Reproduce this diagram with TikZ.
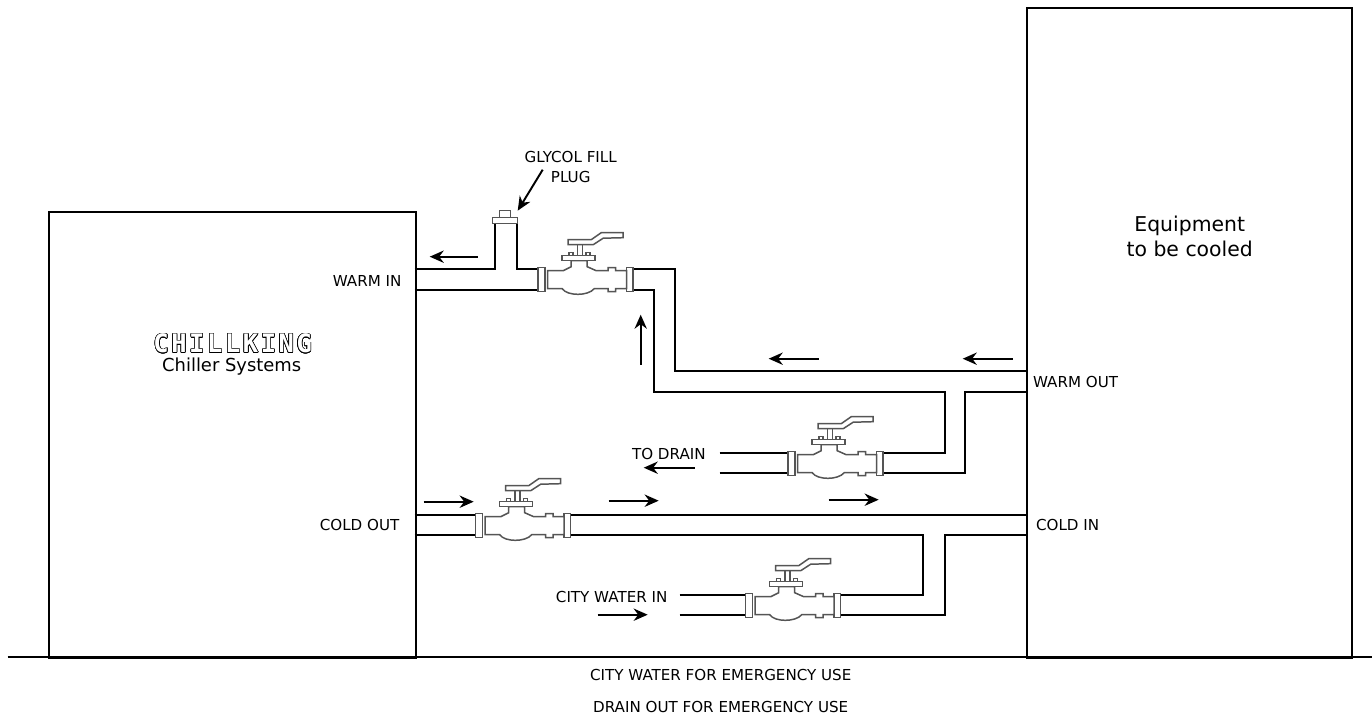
\documentclass[tikz,border=0pt]{standalone}
\usepackage{fontspec}
\usepackage{contour}
\setmainfont{DejaVu Sans}
\newfontfamily\logofont[LetterSpace=10]{DejaVu Sans Mono Bold}
\contourlength{0.35pt}
\usetikzlibrary{arrows.meta}
\definecolor{valveline}{RGB}{85,85,85}
\tikzset{
  pipeline/.style={black, line width=1.25pt, line join=miter},
  wall/.style={black, line width=1.2pt},
  valveedge/.style={valveline, line width=0.85pt, fill=white},
  flowarrow/.style={black, line width=1.1pt, -{Stealth[length=8pt,width=7pt]}},
  pipelabel/.style={font=\fontsize{8.6}{11.3}\selectfont, inner sep=0pt},
  ballvalve/.pic={
    % flanges
    \draw[valveedge] (-47,-12) rectangle (-40,12);
    \draw[valveedge] (41.5,-12) rectangle (48,12);
    % body
    \draw[valveedge] (-37.5,-9) -- (-22,-9) -- (-14,-13) -- (-14,-19) -- (2,-19) -- (2,-13)
      -- (11,-9) -- (23,-9) -- (23,-12) -- (30.5,-12) -- (30.5,-9) -- (41.5,-9) -- (41.5,9)
      -- (30.5,9) -- (30.5,12) -- (23,12) -- (23,9) -- (9,9)
      .. controls (3,16.5) and (-18,16.5) .. (-23,9) -- (-37.5,9) -- cycle;
    % stem, bonnet and lever
    \draw[valveedge] (-23,-24) rectangle (10,-19);
    \draw[valveedge] (-16,-27) rectangle (-12,-24) (1,-27) rectangle (5,-24);
    \draw[valveedge] (-7.5,-24) rectangle (-2.5,-36);
    \draw[valveedge] (-17,-40) -- (6,-40) -- (16,-47) -- (38,-47) -- (38,-42) -- (18,-41.5)
      -- (8,-35) -- (-17,-35) -- cycle;
  }
}
\begin{document}
\begin{tikzpicture}[x=0.02cm, y=-0.02cm]
  \useasboundingbox (0.3,0.3) rectangle (1372.3,719.3);
  % boxes
  \node[wall, draw, minimum width=367*0.02cm, minimum height=446*0.02cm, anchor=north west, inner sep=0pt] (chiller) at (48,211) {};
  \node[wall, draw, minimum width=325*0.02cm, minimum height=650*0.02cm, anchor=north west, inner sep=0pt] (equipment) at (1026,7) {};
  \draw[wall] (8,657) -- (1372.3,657);
  % warm side
  \draw[pipeline] (415,269) -- (495,269) -- (495,224);
  \draw[pipeline] (517,224) -- (517,269) -- (538,269);
  \draw[pipeline] (415,290) -- (538,290);
  \draw[pipeline] (633,269) -- (675,269) -- (675,371) -- (1026,371);
  \draw[pipeline] (633,290) -- (654,290) -- (654,392) -- (945,392) -- (945,453) -- (883,453);
  \draw[pipeline] (1026,392) -- (965,392) -- (965,473) -- (883,473);
  \draw[pipeline] (720,453) -- (789,453) (720,473) -- (789,473);
  % cold side
  \draw[pipeline] (415,515) -- (475,515) (415,535) -- (475,535);
  \draw[pipeline] (571,515) -- (1026,515);
  \draw[pipeline] (571,535) -- (923,535) -- (923,595) -- (841,595);
  \draw[pipeline] (1026,535) -- (945,535) -- (945,615) -- (841,615);
  \draw[pipeline] (680,595) -- (745,595) (680,615) -- (745,615);
  % fill plug
  \draw[valveedge] (493,218) rectangle (518,224);
  \draw[valveedge] (500,211) rectangle (511,218);
  % valves
  \pic at (585.5,280) {ballvalve};
  \pic at (835.5,464) {ballvalve};
  \pic at (523,526) {ballvalve};
  \pic at (793,606) {ballvalve};
  % flow arrows
  \foreach \xa/\xb/\ya in {478/430/257, 819/769/359, 1013/963/359, 695/644/468, 424/474/502,
      609/659/501, 829/879/500, 598/648/615}
    \draw[flowarrow] (\xa,\ya) -- (\xb,\ya);
  \draw[flowarrow] (641,365) -- (641,315);
  % labels
  \node[pipelabel, align=center] (glycol) at (571,167) {GLYCOL FILL\\PLUG};
  \coordinate (plugtop) at (518,211);
  \draw[flowarrow] (543,170) -- (plugtop);
  \node[pipelabel, anchor=east] (warmin) at (402,281) {WARM IN};
  \node[pipelabel, anchor=east] (coldout) at (400,525) {COLD OUT};
  \node[pipelabel, anchor=west] (warmout) at (1033,382) {WARM OUT};
  \node[pipelabel, anchor=west] (coldin) at (1036,525) {COLD IN};
  \node[pipelabel, anchor=west] (todrain) at (632,454) {TO DRAIN};
  \node[pipelabel, anchor=east] (cityin) at (668,597) {CITY WATER IN};
  \node[pipelabel] (cityuse) at (721,675) {CITY WATER FOR EMERGENCY USE};
  \node[pipelabel] (drainuse) at (721,707) {DRAIN OUT FOR EMERGENCY USE};
  \node[font=\fontsize{11.6}{14}\selectfont, align=center, inner sep=0pt] (equiplabel) at (1190,237) {Equipment\\to be cooled};
  \node[font=\fontsize{10.2}{12}\selectfont, inner sep=0pt] (chillersub) at (232,367) {Chiller Systems};
  \node[font=\logofont\fontsize{14.5}{15}\selectfont, inner sep=0pt] (chillerlogo) at (233,344) {\contour{black}{\textcolor{white}{CHILLKING}}};
\end{tikzpicture}
\end{document}
